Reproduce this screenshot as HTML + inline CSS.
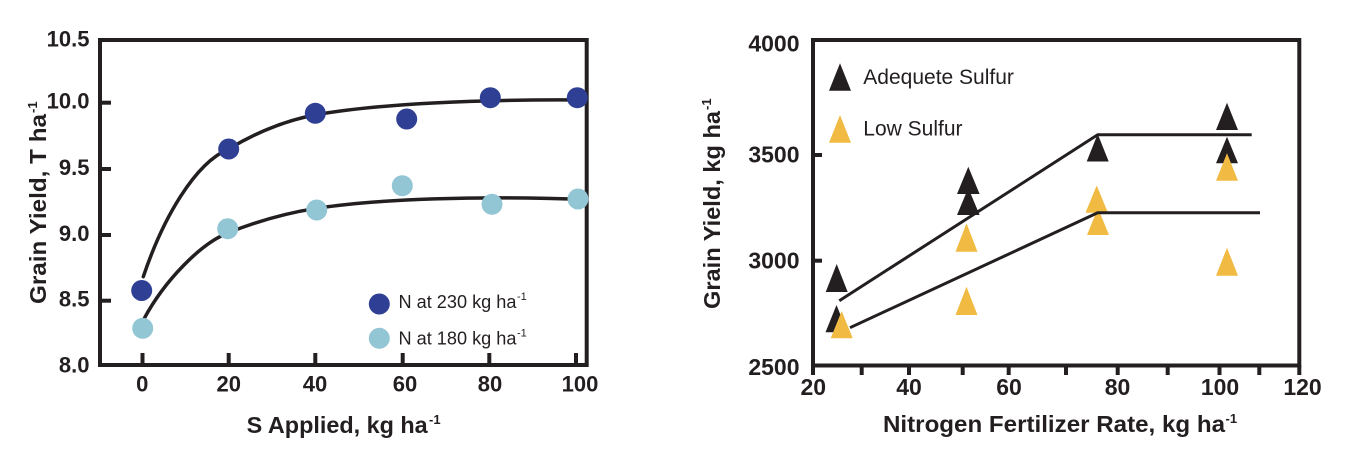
<!DOCTYPE html>
<html>
<head>
<meta charset="utf-8">
<style>
  html, body { margin: 0; padding: 0; background: #ffffff; }
  body { width: 1358px; height: 468px; overflow: hidden; }
  svg { display: block; }
  text { font-family: "Liberation Sans", Arial, sans-serif; fill: #231f20; }
  .b { font-weight: bold; }
</style>
</head>
<body>
<svg width="1358" height="468" viewBox="0 0 1358 468" xmlns="http://www.w3.org/2000/svg">
  <rect x="0" y="0" width="1358" height="468" fill="#ffffff"/>

  <!-- ================= LEFT CHART ================= -->
  <!-- frame -->
  <rect x="100" y="40" width="486.7" height="325" fill="none" stroke="#231f20" stroke-width="4"/>
  <!-- y ticks (inward) -->
  <g stroke="#231f20" stroke-width="4">
    <line x1="100" y1="102.7" x2="111" y2="102.7"/>
    <line x1="100" y1="169" x2="111" y2="169"/>
    <line x1="100" y1="235" x2="111" y2="235"/>
    <line x1="100" y1="300.7" x2="111" y2="300.7"/>
    <!-- x ticks (inward, up) -->
    <line x1="142.5" y1="365" x2="142.5" y2="353"/>
    <line x1="228.7" y1="365" x2="228.7" y2="353"/>
    <line x1="315.3" y1="365" x2="315.3" y2="353"/>
    <line x1="402.7" y1="365" x2="402.7" y2="353"/>
    <line x1="489.3" y1="365" x2="489.3" y2="353"/>
    <line x1="576" y1="365" x2="576" y2="353"/>
  </g>
  <!-- y tick labels -->
  <g class="b" font-size="22" text-anchor="end">
    <text x="89.5" y="46.7">10.5</text>
    <text x="89.5" y="108.5">10.0</text>
    <text x="89.5" y="175">9.5</text>
    <text x="89.5" y="241">9.0</text>
    <text x="89.5" y="306.7">8.5</text>
    <text x="89.5" y="372.5">8.0</text>
  </g>
  <!-- x tick labels -->
  <g class="b" font-size="22" text-anchor="middle">
    <text x="142.3" y="391.7">0</text>
    <text x="228.7" y="391.7">20</text>
    <text x="315" y="391.7">40</text>
    <text x="405" y="391.7">60</text>
    <text x="490" y="391.7">80</text>
    <text x="580" y="391.7">100</text>
  </g>
  <!-- axis titles -->
  <text class="b" font-size="23" x="246.7" y="433" textLength="181" lengthAdjust="spacingAndGlyphs">S Applied, kg ha</text>
  <text class="b" font-size="13" x="429" y="424">-1</text>
  <g transform="translate(46,304) rotate(-90)">
    <text class="b" font-size="23" x="0" y="0" textLength="190" lengthAdjust="spacingAndGlyphs">Grain Yield, T ha</text>
    <text class="b" font-size="13" x="191" y="-9">-1</text>
  </g>

  <!-- curves -->
  <path d="M143.3,276.7 C163,218 195,163 228.7,149 C257.7,131.6 286,120.4 315,115 C375,104 480,99 586,100"
        fill="none" stroke="#231f20" stroke-width="3.5" stroke-linecap="round"/>
  <path d="M144.3,318.3 C164.3,281.3 199.7,244.2 227.7,233 C257.7,221 286.7,212.9 316.7,208.3 C376.7,199 480,195.5 586,199.5"
        fill="none" stroke="#231f20" stroke-width="3.5" stroke-linecap="round"/>

  <!-- dark blue points -->
  <g fill="#2f3f94">
    <circle cx="141.7" cy="290.5" r="10.5"/>
    <circle cx="228.7" cy="149" r="10.5"/>
    <circle cx="315.3" cy="113.3" r="10.5"/>
    <circle cx="406.7" cy="119" r="10.5"/>
    <circle cx="490.3" cy="97.7" r="10.5"/>
    <circle cx="577.3" cy="97.7" r="10.5"/>
  </g>
  <!-- light blue points -->
  <g fill="#93c6d4">
    <circle cx="142.7" cy="328.3" r="10.5"/>
    <circle cx="227.7" cy="228.7" r="10.5"/>
    <circle cx="316.7" cy="210" r="10.5"/>
    <circle cx="402.3" cy="185.7" r="10.5"/>
    <circle cx="492" cy="204.3" r="10.5"/>
    <circle cx="578" cy="199" r="10.5"/>
  </g>

  <!-- left legend -->
  <circle cx="379.3" cy="304" r="10.5" fill="#2f3f94"/>
  <circle cx="379.3" cy="338.3" r="10.5" fill="#93c6d4"/>
  <text font-size="18" x="398.5" y="308" textLength="118" lengthAdjust="spacingAndGlyphs">N at 230 kg ha</text>
  <text font-size="11" x="517" y="300">-1</text>
  <text font-size="18" x="398.5" y="344.5" textLength="118" lengthAdjust="spacingAndGlyphs">N at 180 kg ha</text>
  <text font-size="11" x="517" y="336.5">-1</text>

  <!-- ================= RIGHT CHART ================= -->
  <rect x="813" y="40" width="486.3" height="325.5" fill="none" stroke="#231f20" stroke-width="4"/>
  <g stroke="#231f20" stroke-width="4">
    <!-- y ticks inward -->
    <line x1="813" y1="155" x2="822" y2="155"/>
    <line x1="813" y1="260.7" x2="822" y2="260.7"/>
    <!-- x ticks outward (down) -->
    <line x1="813" y1="365" x2="813" y2="375"/>
    <line x1="861.7" y1="365" x2="861.7" y2="375"/>
    <line x1="909" y1="365" x2="909" y2="375"/>
    <line x1="962.7" y1="365" x2="962.7" y2="375"/>
    <line x1="1008.7" y1="365" x2="1008.7" y2="375"/>
    <line x1="1066" y1="365" x2="1066" y2="375"/>
    <line x1="1117.7" y1="365" x2="1117.7" y2="375"/>
    <line x1="1167.7" y1="365" x2="1167.7" y2="375"/>
    <line x1="1219.5" y1="365" x2="1219.5" y2="375"/>
    <line x1="1259.3" y1="365" x2="1259.3" y2="375"/>
    <line x1="1299.3" y1="365" x2="1299.3" y2="375"/>
  </g>
  <!-- y tick labels -->
  <g class="b" font-size="23" text-anchor="end">
    <text x="799.5" y="51.7">4000</text>
    <text x="799.5" y="162.7">3500</text>
    <text x="799.5" y="268.3">3000</text>
    <text x="799.5" y="375">2500</text>
  </g>
  <!-- x tick labels -->
  <g class="b" font-size="23" text-anchor="middle">
    <text x="813.3" y="395">20</text>
    <text x="909" y="395">40</text>
    <text x="1009" y="395">60</text>
    <text x="1117.5" y="395">80</text>
    <text x="1220" y="395">100</text>
    <text x="1302.5" y="395">120</text>
  </g>
  <!-- axis titles -->
  <text class="b" font-size="23" x="883" y="432" textLength="342" lengthAdjust="spacingAndGlyphs">Nitrogen Fertilizer Rate, kg ha</text>
  <text class="b" font-size="13" x="1225.5" y="423">-1</text>
  <g transform="translate(720,309) rotate(-90)">
    <text class="b" font-size="23" x="0" y="0" textLength="198" lengthAdjust="spacingAndGlyphs">Grain Yield, kg ha</text>
    <text class="b" font-size="13" x="199" y="-9">-1</text>
  </g>

  <!-- legend -->
  <polygon points="840,63.3 829,90.7 851,90.7" fill="#231f20"/>
  <text font-size="21" x="863.3" y="84">Adequete Sulfur</text>
  <polygon points="840,115 829,142.7 851,142.7" fill="#f1bb43"/>
  <text font-size="21" x="863.3" y="135.7">Low Sulfur</text>

  <!-- black triangles -->
  <g fill="#231f20">
    <polygon points="836.7,264 825.7,292 847.7,292"/>
    <polygon points="836.5,305 825.5,332.3 847.5,332.3"/>
    <polygon points="968.3,166.7 957,194 979.6,194"/>
    <polygon points="968.3,188 957,215 979.6,215"/>
    <polygon points="1097.7,134 1086.7,161.5 1108.7,161.5"/>
    <polygon points="1227,102.7 1216,130 1238,130"/>
    <polygon points="1227,136.7 1216,163.3 1238,163.3"/>
  </g>
  <!-- yellow triangles -->
  <g fill="#f1bb43">
    <polygon points="841.7,311 830.7,338.3 852.7,338.3"/>
    <polygon points="966.5,223.3 955.5,251.7 977.5,251.7"/>
    <polygon points="966.5,286.7 955.5,315 977.5,315"/>
    <polygon points="1096.7,185.5 1085.5,212.7 1108,212.7"/>
    <polygon points="1098,208 1087,235 1109,235"/>
    <polygon points="1227,153.3 1216,180.7 1238,180.7"/>
    <polygon points="1227,247.7 1216,275.7 1238,275.7"/>
  </g>

  <!-- fitted lines -->
  <polyline points="839.3,300.7 1097.7,134.8 1251.7,134.8" fill="none" stroke="#231f20" stroke-width="3"/>
  <polyline points="850,327.7 1097.7,212.8 1260,212.8" fill="none" stroke="#231f20" stroke-width="3"/>
</svg>
</body>
</html>
